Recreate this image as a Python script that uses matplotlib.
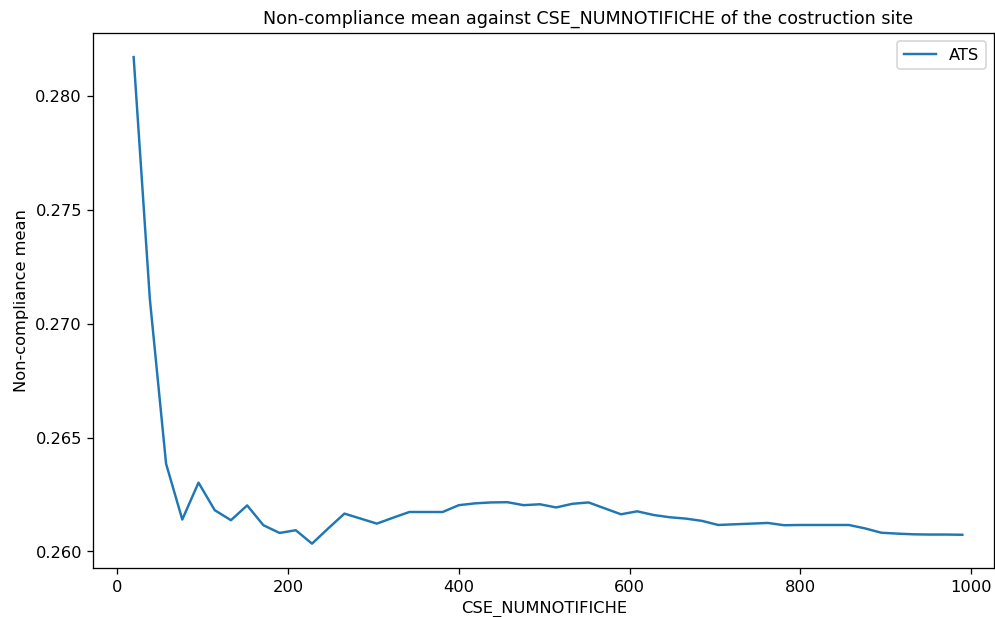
import matplotlib
matplotlib.use("Agg")
import matplotlib.pyplot as plt

# CSE_NUMNOTIFICHE bins and mean non-compliance per bin
numnotifiche = [19, 38, 57, 76, 95, 114, 133, 152, 171, 190,
                209, 228, 247, 266, 285, 304, 323, 342, 362, 381,
                400, 419, 438, 457, 476, 495, 514, 533, 552, 571,
                590, 609, 628, 647, 666, 685, 704, 723, 743, 762,
                781, 800, 819, 838, 857, 876, 895, 914, 933, 952,
                971, 990]
non_compliance = [0.28171, 0.27108, 0.26385, 0.26140, 0.26302, 0.26181, 0.26137, 0.26202, 0.26115, 0.26081,
                  0.26093, 0.26034, 0.26101, 0.26166, 0.26144, 0.26122, 0.26148, 0.26173, 0.26173, 0.26173,
                  0.26203, 0.26211, 0.26215, 0.26216, 0.26203, 0.26207, 0.26193, 0.26209, 0.26215, 0.26189,
                  0.26163, 0.26176, 0.26160, 0.26150, 0.26144, 0.26134, 0.26116, 0.26119, 0.26122, 0.26125,
                  0.26115, 0.26116, 0.26116, 0.26116, 0.26116, 0.26101, 0.26082, 0.26078, 0.26075, 0.26074,
                  0.26074, 0.26073]

DPI = 117

fig = plt.figure(figsize=(995.3 / DPI, 617.3 / DPI), dpi=DPI)
ax = fig.add_axes([0.0938, 0.0794, 0.905, 0.8671])

ax.plot(numnotifiche, non_compliance, label="ATS")
ax.set_xlim(-28.2, 1027.2)
ax.set_title("Non-compliance mean against CSE_NUMNOTIFICHE of the costruction site",
             fontsize=10.8, x=0.549)
ax.set_xlabel("CSE_NUMNOTIFICHE")
ax.set_ylabel("Non-compliance mean")
ax.legend(loc="upper right")

fig.savefig("out.png", dpi=DPI)
